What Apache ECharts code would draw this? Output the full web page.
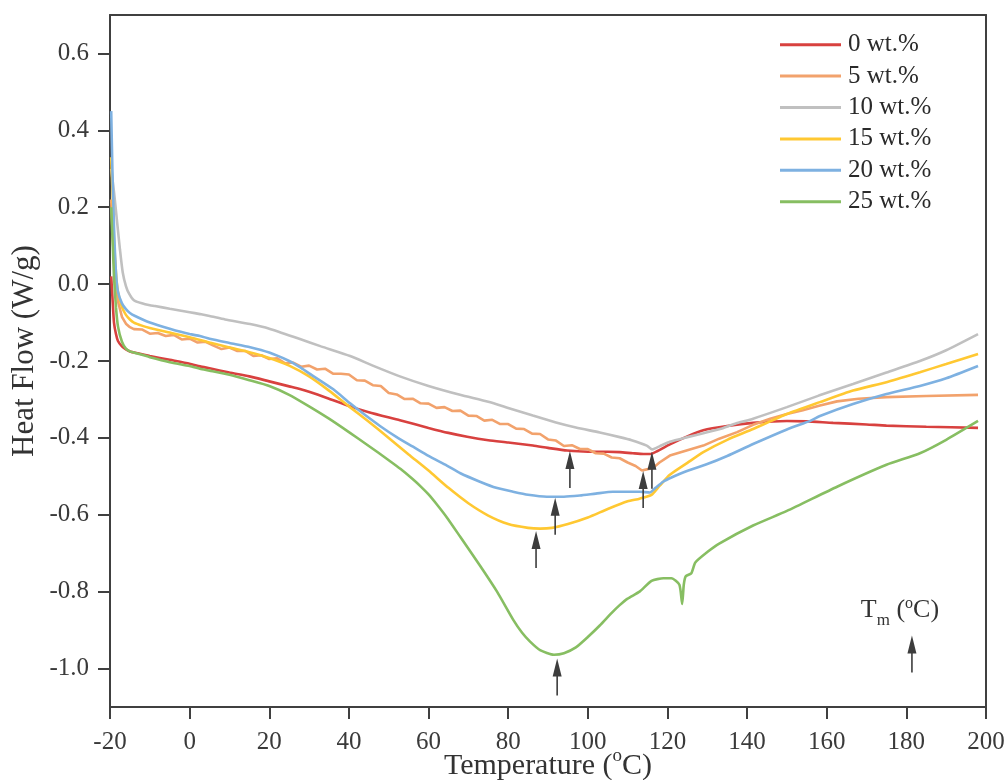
<!DOCTYPE html>
<html>
<head>
<meta charset="utf-8">
<script src="https://cdn.jsdelivr.net/npm/echarts@6/dist/echarts.min.js"></script>
<style>
  html, body { margin: 0; padding: 0; background: #ffffff; overflow: hidden; }
  #chart { width: 1008px; height: 780px; }
</style>
</head>
<body>
<div id="chart"></div>
<script>
// DSC heating curves: heat flow (W/g) versus temperature (°C) for each filler loading.
const seriesNames = ['0 wt.%', '5 wt.%', '10 wt.%', '15 wt.%', '20 wt.%', '25 wt.%'];
const seriesColors = ['#d8413f', '#f2a26c', '#c0c0c0', '#ffc832', '#7eb1e1', '#87be62'];

const flow0 = [
  [-19.7, 0.02], [-19.3, -0.05], [-19, -0.1], [-18.5, -0.13], [-18, -0.148], [-17, -0.162],
  [-16, -0.17], [-15, -0.175], [-13, -0.18], [-10, -0.187], [-5, -0.197], [0, -0.207],
  [2.6, -0.214], [5, -0.219], [10, -0.23], [15, -0.24], [20, -0.253], [25, -0.266],
  [27.7, -0.273], [30, -0.28], [35, -0.298], [40.3, -0.318], [45, -0.333], [52.8, -0.354],
  [60, -0.374], [65, -0.387], [69.7, -0.397], [75, -0.406], [80, -0.412], [86.2, -0.42],
  [90, -0.426], [94.8, -0.433], [100, -0.436], [105, -0.436], [108, -0.437], [111.3, -0.44],
  [114, -0.442], [115.6, -0.442], [117.5, -0.434], [120.6, -0.417], [125, -0.396], [129, -0.38],
  [135, -0.369], [141.5, -0.361], [150, -0.356], [155, -0.357], [161.6, -0.361], [170, -0.365],
  [175, -0.368], [185, -0.371], [198, -0.374]
];

const flow5 = [
  [-19.7, 0.22], [-19.3, 0.12], [-19, 0.06], [-18.5, 0.0], [-18, -0.045], [-17, -0.085],
  [-16, -0.103], [-15, -0.112], [-14, -0.117], [-12, -0.118], [-10, -0.129], [-8, -0.127],
  [-6, -0.135], [-4, -0.132], [-2, -0.144], [0, -0.142], [2, -0.152], [4, -0.15],
  [6, -0.16], [8, -0.169], [10, -0.165], [12, -0.174], [14, -0.174], [16, -0.187],
  [18, -0.185], [20, -0.195], [22, -0.193], [24, -0.206], [26, -0.204], [28, -0.215],
  [30, -0.212], [32, -0.222], [34, -0.22], [36, -0.233], [38, -0.233], [40, -0.235],
  [42, -0.25], [44, -0.251], [46, -0.263], [48, -0.265], [50, -0.283], [52, -0.287],
  [54, -0.299], [56, -0.298], [58, -0.31], [60, -0.311], [62, -0.322], [64, -0.32],
  [66, -0.33], [68, -0.329], [70, -0.342], [72, -0.343], [74, -0.355], [76, -0.353],
  [78, -0.364], [80, -0.364], [82, -0.376], [84, -0.377], [86, -0.389], [88, -0.39],
  [90, -0.404], [92, -0.407], [94, -0.421], [96, -0.419], [98, -0.429], [100, -0.429],
  [102, -0.44], [104, -0.441], [106, -0.451], [108, -0.453], [110, -0.464], [112, -0.473],
  [113.6, -0.485], [116.4, -0.478], [118, -0.464], [120.6, -0.446], [125, -0.432], [129, -0.42],
  [133, -0.402], [137.5, -0.385], [141.5, -0.366], [145.8, -0.35], [150, -0.338], [154, -0.328],
  [158.3, -0.316], [162.6, -0.305], [168, -0.298], [175, -0.294], [185, -0.291], [198, -0.288]
];

const flow10 = [
  [-19.7, 0.3], [-19, 0.24], [-18.2, 0.16], [-17.5, 0.09], [-16.8, 0.03], [-16, -0.005],
  [-15.2, -0.025], [-14, -0.042], [-12, -0.05], [-10, -0.055], [-8.7, -0.057], [-5, -0.064],
  [0, -0.073], [2.6, -0.078], [5, -0.083], [8.9, -0.092], [15.2, -0.104], [20, -0.116],
  [27.7, -0.143], [33, -0.162], [40.3, -0.187], [46, -0.212], [52.8, -0.24], [60, -0.265],
  [67.9, -0.288], [75, -0.306], [80, -0.322], [86.2, -0.342], [92, -0.36], [97, -0.373],
  [103, -0.386], [108, -0.398], [111, -0.406], [114.8, -0.42], [116.2, -0.43], [118, -0.422],
  [120.6, -0.41], [125, -0.398], [129, -0.388], [133.2, -0.377], [137, -0.363], [141.5, -0.35],
  [150, -0.32], [158, -0.29], [166.6, -0.26], [175, -0.23], [183.4, -0.2], [190, -0.172],
  [198, -0.13]
];

const flow15 = [
  [-19.7, 0.33], [-19.3, 0.22], [-19, 0.12], [-18.5, 0.03], [-18, -0.02], [-17, -0.06],
  [-16, -0.08], [-15, -0.092], [-14, -0.1], [-12, -0.108], [-10, -0.114], [-5, -0.126],
  [0, -0.138], [5, -0.152], [10, -0.165], [15, -0.177], [20, -0.192], [25, -0.212],
  [30, -0.24], [35, -0.277], [40, -0.318], [45, -0.358], [50, -0.4], [55, -0.443],
  [60, -0.485], [65, -0.53], [70, -0.57], [75, -0.602], [80, -0.624], [85, -0.634],
  [88, -0.636], [91, -0.634], [95, -0.624], [100, -0.607], [105, -0.585], [110, -0.565],
  [113, -0.558], [116, -0.548], [118, -0.525], [120.6, -0.496], [125, -0.465], [129, -0.437],
  [135, -0.405], [141.5, -0.377], [150, -0.338], [158.3, -0.307], [166.6, -0.277], [175, -0.255],
  [183.4, -0.229], [190, -0.208], [198, -0.182]
];

const flow20 = [
  [-19.7, 0.45], [-19.4, 0.3], [-19, 0.15], [-18.5, 0.03], [-18, -0.02], [-17, -0.05],
  [-16, -0.065], [-15, -0.075], [-13.7, -0.083], [-10, -0.1], [-5, -0.116], [0, -0.13],
  [2.6, -0.135], [5, -0.142], [10, -0.153], [15.2, -0.164], [20, -0.178], [25, -0.2],
  [27.7, -0.216], [30, -0.232], [36, -0.273], [40.3, -0.31], [44, -0.34], [47.8, -0.369],
  [52, -0.398], [56.1, -0.423], [60, -0.447], [64.6, -0.472], [68, -0.492], [72.9, -0.514],
  [77, -0.53], [81.2, -0.54], [85, -0.548], [89.7, -0.553], [94, -0.553], [98, -0.55],
  [102, -0.545], [106.3, -0.54], [110, -0.54], [113, -0.54], [115.6, -0.542], [117, -0.53],
  [118.9, -0.514], [121, -0.503], [124.9, -0.486], [130, -0.468], [135, -0.447], [141.5, -0.416],
  [150, -0.378], [156, -0.355], [158.3, -0.343], [166.6, -0.312], [175, -0.286], [183.4, -0.265],
  [190, -0.245], [198, -0.213]
];

const flow25 = [
  [-19.7, 0.2], [-19.3, 0.1], [-19, 0.02], [-18.5, -0.06], [-18, -0.11], [-17, -0.15],
  [-16, -0.168], [-15, -0.175], [-13.7, -0.179], [-10, -0.19], [-5, -0.203], [0, -0.213],
  [2.6, -0.22], [5, -0.225], [10, -0.236], [15, -0.25], [20, -0.265], [25, -0.288],
  [30, -0.318], [35, -0.35], [40, -0.385], [45, -0.421], [50, -0.458], [53, -0.481],
  [56, -0.507], [58, -0.526], [60, -0.547], [62, -0.572], [64.6, -0.607], [68, -0.658],
  [72.9, -0.732], [77.2, -0.8], [81.2, -0.872], [83.5, -0.907], [85.5, -0.93], [88, -0.952],
  [91.5, -0.964], [94, -0.96], [97, -0.945], [100, -0.918], [103, -0.888], [106, -0.855],
  [108, -0.835], [110, -0.818], [113, -0.8], [116, -0.772], [119, -0.765], [121, -0.765],
  [123, -0.782], [123.7, -0.832], [124.1, -0.782], [124.6, -0.76], [126, -0.752], [127, -0.724],
  [130, -0.697], [133, -0.675], [141.5, -0.628], [150, -0.59], [162.6, -0.527], [175, -0.47],
  [183.4, -0.44], [190, -0.405], [198, -0.356]
];

// Melting-peak markers (arrow tip position: temperature, heat flow)
const peakTemps = [95.5, 113.9, 116.1, 91.8, 87.0, 92.3];
const peakFlows = [-0.434, -0.486, -0.436, -0.556, -0.642, -0.974];
// Key arrow beside the "Tm (°C)" caption
const keyTemp = [181.4];
const keyFlow = [-0.914];

const xTicks = [-20, 0, 20, 40, 60, 80, 100, 120, 140, 160, 180, 200];
const yTicks = [-1.0, -0.8, -0.6, -0.4, -0.2, 0.0, 0.2, 0.4, 0.6];

const curves = [flow0, flow5, flow10, flow15, flow20, flow25];

const FONT = '"Liberation Serif", "DejaVu Serif", serif';
const AXIS = '#404040';
const ARROW = 'path://M4.5,0 L9,18 L5.3,18 L5.3,37 L3.7,37 L3.7,18 L0,18 Z';

const chart = echarts.init(document.getElementById('chart'), null, { renderer: 'canvas' });

const lineSeries = curves.map((data, i) => ({
  name: seriesNames[i],
  type: 'line',
  data: data,
  showSymbol: false,
  symbol: 'none',
  smooth: i === 1 ? false : 0.2,
  lineStyle: { color: seriesColors[i], width: 2.6 },
  itemStyle: { color: seriesColors[i] },
  z: 2,
  silent: true
}));

const arrowSeries = {
  type: 'scatter',
  data: peakTemps.map((t, i) => [t, peakFlows[i]]),
  symbol: ARROW,
  symbolSize: [9, 37],
  symbolOffset: [0, 18.5],
  itemStyle: { color: '#3d3d3d', opacity: 1 },
  z: 5,
  silent: true
};

const keySeries = {
  type: 'scatter',
  data: keyTemp.map((t, i) => [t, keyFlow[i]]),
  symbol: ARROW,
  symbolSize: [9, 37],
  symbolOffset: [0, 18.5],
  itemStyle: { color: '#3d3d3d', opacity: 1 },
  label: {
    show: true,
    position: 'top',
    distance: 12,
    offset: [-12, 0],
    formatter: '{t|T}{m|m}{t| (}{s|o}{t|C)}',
    rich: {
      t: { fontFamily: FONT, fontSize: 26, color: '#333', lineHeight: 30, verticalAlign: 'bottom' },
      m: { fontFamily: FONT, fontSize: 17, color: '#333', lineHeight: 30, verticalAlign: 'bottom', padding: [0, 0, -6, 0] },
      s: { fontFamily: FONT, fontSize: 16, color: '#333', lineHeight: 30, verticalAlign: 'top', padding: [2, 0, 0, 0] }
    }
  },
  z: 5,
  silent: true
};

const option = {
  backgroundColor: '#ffffff',
  animation: false,
  grid: { left: 110, right: 22, top: 15, bottom: 73, containLabel: false, outerBoundsMode: 'none' },
  legend: {
    orient: 'vertical',
    left: 775,
    top: 24,
    data: seriesNames,
    icon: 'rect',
    itemWidth: 61,
    itemHeight: 3,
    itemGap: 0,
    textStyle: { fontFamily: FONT, fontSize: 25, color: '#2a2a2a', lineHeight: 31.4, padding: [0, 0, 0, 2] }
  },
  xAxis: [
    {
      type: 'value', min: -20, max: 200, interval: 20, position: 'bottom',
      axisLine: { show: true, onZero: false, lineStyle: { color: AXIS, width: 2 } },
      axisTick: { show: true, inside: false, length: 12, lineStyle: { color: AXIS, width: 2 } },
      axisLabel: { fontFamily: FONT, fontSize: 25, color: '#3a3a3a', margin: 23,
        customValues: xTicks, formatter: v => String(v) },
      splitLine: { show: false },
      name: '{a|Temperature (}{s|o}{a|C)}',
      nameLocation: 'middle',
      nameGap: 40,
      nameMoveOverlap: false,
      nameTextStyle: {
        rich: {
          a: { fontFamily: FONT, fontSize: 30, color: '#333', lineHeight: 34, verticalAlign: 'bottom' },
          s: { fontFamily: FONT, fontSize: 19, color: '#333', lineHeight: 34, verticalAlign: 'top' }
        }
      }
    },
    {
      type: 'value', min: -20, max: 200, position: 'top',
      axisLine: { show: true, onZero: false, lineStyle: { color: AXIS, width: 2 } },
      axisTick: { show: false }, axisLabel: { show: false }, splitLine: { show: false }
    }
  ],
  yAxis: [
    {
      type: 'value', min: -1.1, max: 0.7, position: 'left',
      axisLine: { show: true, onZero: false, lineStyle: { color: AXIS, width: 2 } },
      axisTick: { show: true, inside: false, length: 12, customValues: yTicks, lineStyle: { color: AXIS, width: 2 } },
      axisLabel: { fontFamily: FONT, fontSize: 25, color: '#3a3a3a', margin: 21,
        customValues: yTicks, formatter: v => v.toFixed(1) },
      splitLine: { show: false },
      name: 'Heat Flow (W/g)',
      nameLocation: 'middle',
      nameGap: 70,
      nameMoveOverlap: false,
      nameTextStyle: { fontFamily: FONT, fontSize: 31, color: '#333', padding: [0, 0, 0, 20] }
    },
    {
      type: 'value', min: -1.1, max: 0.7, position: 'right',
      axisLine: { show: true, onZero: false, lineStyle: { color: AXIS, width: 2 } },
      axisTick: { show: false }, axisLabel: { show: false }, splitLine: { show: false }
    }
  ],
  series: [...lineSeries, arrowSeries, keySeries]
};

chart.setOption(option);
</script>
</body>
</html>
